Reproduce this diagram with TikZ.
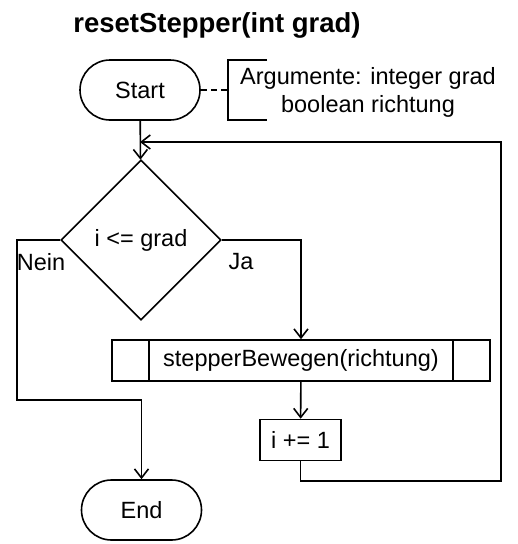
\documentclass[tikz,border=0pt]{standalone}
\usepackage{fontspec}
\setmainfont{Liberation Sans}
\usetikzlibrary{shapes.geometric,arrows.meta}

\begin{document}
\begin{tikzpicture}[x=1pt, y=-1pt, line width=1.6pt,
	txt/.style={font=\fontsize{23.5}{28}\selectfont},
	terminal/.style={txt, draw, rounded corners=30pt, minimum width=120pt, minimum height=60pt, inner sep=0pt},
	decision/.style={txt, draw, diamond, aspect=1, minimum size=160pt, inner sep=0pt},
	process/.style={txt, draw, minimum height=41pt, inner sep=0pt},
	arr/.style={-{Straight Barb[length=9pt, width=14pt]}}]
	\useasboundingbox (0,0) rectangle (518,544);

	\node[font=\bfseries\fontsize{27.5}{30}\selectfont] (title) at (217,25) {resetStepper(int grad)};
	\node[terminal]                          (start) at (140,90)    {Start};
	\node[txt, align=center]                 (args)  at (368,92)    {Argumente: integer grad\\boolean richtung};
	\node[decision]                          (dec)   at (141,240)   {i <= grad};
	\node[process, minimum width=378pt]      (sub)   at (301,360.5) {stepperBewegen(richtung)};
	\node[process, minimum width=81pt]       (inc)   at (300.5,440) {i += 1};
	\node[terminal]                          (stop)  at (141.5,510) {End};
	\node[txt]                               (nein)  at (41,262)    {Nein};
	\node[txt]                               (ja)    at (241,262)   {Ja};

	\coordinate (brk)  at (228,90);
	\coordinate (loop) at (140,142);
	\coordinate (noc)  at (17,400);
	\coordinate (bot)  at (501,481);
	\coordinate (top)  at (501,142);

	% annotation bracket
	\path [-, dash pattern=on 6pt off 4pt] (start) edge (brk);
	\draw (267,60) -- (228,60) -- (228,120) -- (267,120);

	% side bars of the sub-routine box
	\draw ([xshift=38pt]sub.north west) -- ([xshift=38pt]sub.south west);
	\draw ([xshift=-38pt]sub.north east) -- ([xshift=-38pt]sub.south east);

	\draw [arr] (start) -- (dec);
	\draw [arr] (dec.east) -| (sub.north);
	\draw [arr] (sub) -- (inc);
	\draw [arr] (dec.west) -| (noc) -| (stop.north);
	\draw [arr] (inc.south) |- (bot) -- (top) -- (loop);
\end{tikzpicture}
\end{document}
